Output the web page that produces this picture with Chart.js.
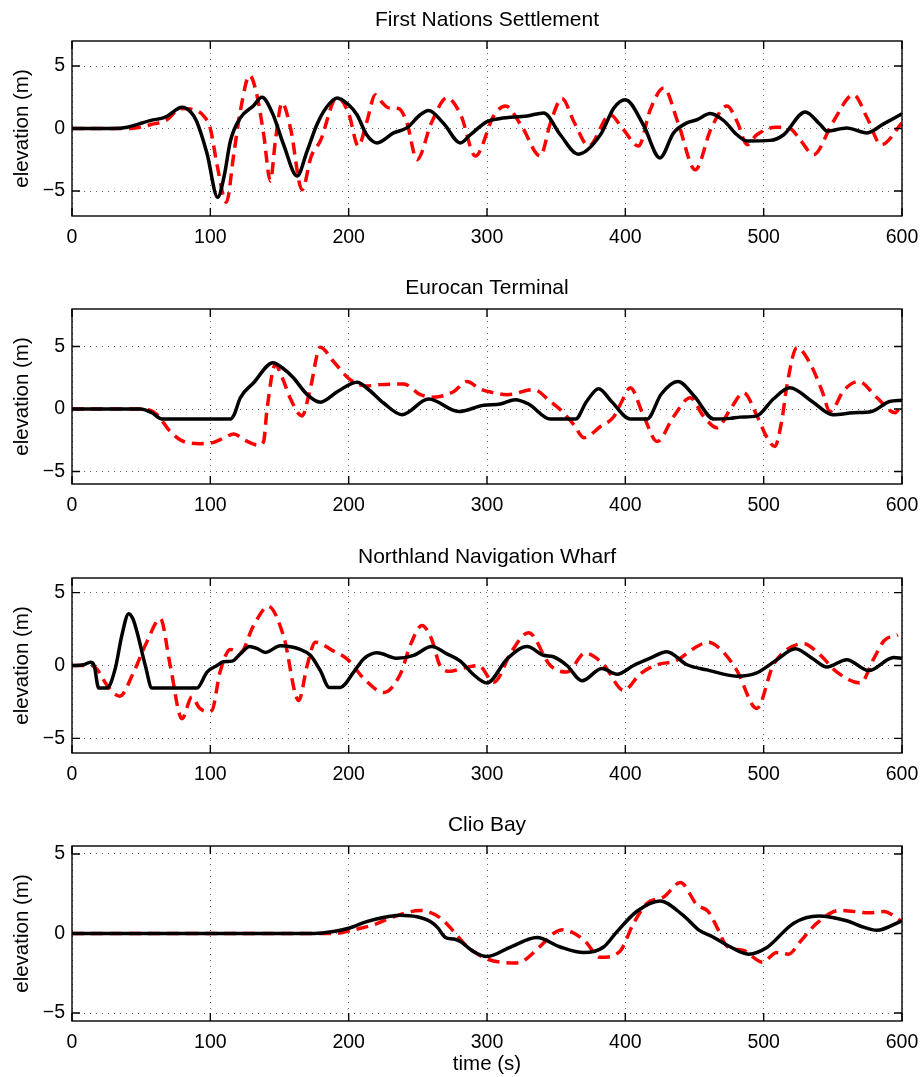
<!DOCTYPE html>
<html>
<head>
<meta charset="utf-8">
<script src="https://cdn.jsdelivr.net/npm/chart.js@4.4.1/dist/chart.umd.min.js"></script>
<style>
body { margin: 0; background: #fff; }
#wrap { position: relative; width: 921px; height: 1077px; }
canvas { position: absolute; left: 0; }
</style>
</head>
<body>
<div id="wrap">
<canvas id="p1" width="921" height="268" style="top:0px"></canvas>
<canvas id="p2" width="921" height="268" style="top:268px"></canvas>
<canvas id="p3" width="921" height="268" style="top:537px"></canvas>
<canvas id="p4" width="921" height="272" style="top:805px"></canvas>
</div>
<script>
// tick labels
let xTicks = [0, 100, 200, 300, 400, 500, 600];
let yTicks = [-5, 0, 5];

// First Nations Settlement: [time s, elevation m]
let settleBlack = [[0,0],[30,0],[40,0.1],[48,0.35],[57,0.65],[66,0.85],[69,1.0],[79.5,1.7],[86,1.3],[90,0.6],[97.6,-2],[105.3,-5.5],[110,-3.8],[114.5,-1],[121.7,0.85],[131,1.8],[137.3,2.5],[145,1.2],[153,-1.3],[162.7,-3.8],[170,-1.8],[177,0.3],[184,1.7],[191.6,2.45],[200,1.9],[206,1.1],[213,-0.5],[220.5,-1.15],[232.5,-0.35],[242,0.05],[251.8,1.1],[257.8,1.45],[268.7,0.4],[280.7,-1.15],[288,-0.5],[300,0.55],[309.6,0.8],[329,1.0],[341,1.25],[353,-0.5],[366,-2.05],[382,-0.5],[391.8,1.65],[400,2.3],[413,0.3],[425,-2.35],[434.9,-0.35],[444.6,0.45],[451.8,0.7],[461.4,1.2],[471,0.64],[480.7,-0.5],[488,-1.0],[504.8,-0.95],[514.5,-0.5],[530,1.33],[541,0.3],[545.8,-0.2],[560,0.05],[574.7,-0.35],[586.7,0.37],[600,1.17]];
let settleRed = [[0,0],[40,0],[47,0.05],[56.6,0.3],[68.7,0.7],[78.3,1.6],[88,1.5],[95.2,1.0],[100,0],[105,-3],[111.6,-5.9],[117,-2],[121.7,1.4],[128.4,4.25],[133,3],[138.6,-0.5],[143.4,-4.2],[147,-1],[151.8,2.05],[158,0],[166.3,-4.9],[173,-2.2],[179.5,-1],[191.6,2.5],[200,1.2],[207,-1.4],[213,0.5],[219.3,2.7],[224,2.1],[229,1.65],[236,1.6],[242,0.5],[249.4,-2.5],[260,0.5],[271,2.45],[281,1.1],[291.6,-2.2],[304.8,1.0],[313.3,1.8],[325,0.2],[338.5,-2.2],[346,0.5],[354.2,2.4],[363,0.5],[373.5,-1.4],[389,1.1],[398,0.0],[409.6,-1.4],[418,1.5],[427.7,3.25],[438,0.5],[450.6,-3.3],[462,0],[473.5,1.8],[481,0.5],[488,-1.3],[495,-0.5],[509,0.1],[519,0],[527,-1],[536,-2.1],[550,0.5],[565,2.7],[575,0.8],[585,-1.3],[600,0.45]];

// Eurocan Terminal
let eurocanBlack = [[0,0],[49.4,0],[57.8,-0.3],[65,-0.8],[114.5,-0.8],[117,-0.5],[121.7,0.9],[131.3,2.1],[145.3,3.7],[152,3.3],[160,2.5],[170,1.15],[179.5,0.55],[192,1.4],[206,2.15],[215,1.5],[225,0.5],[238.5,-0.45],[257.8,0.8],[279.5,-0.2],[297.6,0.3],[309.6,0.4],[320.5,0.75],[330,0.4],[345.8,-0.8],[364,-0.8],[372,0.6],[380.7,1.63],[390,0.6],[403.6,-0.8],[415.7,-0.8],[426,1.2],[438,2.2],[450,1.0],[463.9,-0.8],[476,-0.75],[483,-0.65],[495,-0.55],[507,0.8],[519,1.7],[535,0.6],[550,-0.45],[565,-0.3],[578,-0.2],[591,0.6],[600,0.7]];
let eurocanRed = [[0,0],[52,0],[61.4,-0.45],[71,-1.8],[80.7,-2.6],[92.8,-2.77],[102.4,-2.67],[110,-2.3],[116.9,-2.0],[125,-2.5],[135,-2.9],[138.5,-2.6],[141,0],[147,3.55],[152,2.5],[158,0.8],[166.3,-0.55],[172,1.5],[179.5,4.95],[189,3.8],[201,2.35],[213,1.85],[223,1.95],[239.8,2.0],[251.8,1.15],[261.4,0.95],[276,1.4],[285.5,2.2],[295,1.6],[304.8,1.3],[314.5,1.15],[333.7,1.55],[345.8,0.6],[353,-0.05],[362.7,-1.25],[370,-2.3],[382,-1.4],[391.8,-0.6],[397,0.5],[403.6,1.7],[413,-0.5],[423,-2.6],[434.9,-0.6],[447,0.9],[456,-0.5],[466.3,-1.5],[476,0],[485.5,1.3],[495,-0.5],[502,-2.2],[508,-3.0],[513,-1],[517,2],[524,4.9],[534,3.55],[542,1.5],[548,-0.2],[558,1.5],[568.7,2.2],[582,0.9],[595,-0.3],[600,0.5]];

// Northland Navigation Wharf
let northBlack = [[0,0],[8.4,0.05],[13.3,0.23],[16,0],[19.3,-1.55],[25.3,-1.55],[31.3,-0.2],[36,2.05],[41,3.55],[44,3.2],[47,2.3],[53,0],[57.8,-1.55],[90.4,-1.55],[97.6,-0.45],[104.8,0],[109.6,0.25],[115.7,0.3],[121.7,0.8],[128.4,1.3],[134,1.15],[139.8,0.9],[150.6,1.35],[165,1.1],[172.3,0.7],[179.5,-0.35],[186,-1.5],[194,-1.5],[203.6,-0.45],[210.8,0.45],[220.5,0.87],[235,0.5],[247,0.7],[260,1.3],[271,0.8],[280.7,0.3],[290,-0.6],[300,-1.2],[314.5,0.45],[329,1.3],[340.9,0.7],[348,0.6],[357.8,0],[368.7,-1.05],[383,-0.2],[394,-0.6],[406,0],[418,0.5],[430,0.95],[444.6,0.05],[459,-0.3],[480.7,-0.73],[495,-0.5],[509.6,0.4],[522.9,1.15],[535,0.5],[545.8,-0.1],[560,0.4],[575.9,-0.35],[594,0.55],[600,0.5]];
let northRed = [[0,0],[14,0],[18,-0.25],[25.3,-1.35],[34.5,-2.1],[44.6,-0.45],[54,1.6],[63.9,3.2],[71,0],[79.5,-3.65],[86.7,-2.15],[92,-2.9],[97.6,-3.15],[101,-3.1],[107,-0.45],[114.5,1.1],[121.7,0.9],[131.3,2.75],[142,4.05],[153,2.0],[163.9,-2.4],[170,0],[175.9,1.6],[189,1.0],[198.8,0.45],[212,-1],[225.3,-1.85],[237.3,-0.6],[245,1.5],[253,2.75],[260,1.8],[266,0],[273.5,-0.4],[280,-0.25],[294,0],[304.8,-1.15],[318,1.0],[330,2.25],[345.8,0],[357.8,-0.45],[371,0.85],[384,0.1],[398.8,-1.7],[411,-0.55],[423,0.05],[437,0.35],[450,1.2],[460,1.6],[470,1.0],[480.7,-0.35],[495,-2.95],[506.8,0],[517,1.1],[529,1.5],[541,0.7],[553,-0.45],[570,-1.2],[579.5,0.45],[587,1.7],[597,2.1]];

// Clio Bay
let clioBlack = [[0,0],[175,0],[189,0.12],[200,0.33],[213,0.75],[225,1.0],[237,1.15],[249.4,1.05],[259,0.75],[264,0.4],[270,-0.25],[276,-0.35],[280.7,-0.5],[290.4,-1.15],[300,-1.45],[317,-0.85],[336,-0.25],[353,-0.85],[370,-1.2],[384.3,-0.85],[394,0.12],[408.4,1.4],[425,2.05],[441.4,1.17],[453.5,0.2],[463,-0.2],[475,-0.8],[489.2,-1.3],[502,-0.9],[521.7,0.65],[539.8,1.1],[560,0.8],[572,0.4],[581.7,0.2],[600,0.8]];
let clioRed = [[0,0],[190,0],[203.6,0.23],[218,0.55],[232.5,1.05],[251.8,1.45],[266,1.0],[276,0.12],[285.5,-0.8],[300,-1.6],[321.7,-1.85],[338.5,-0.8],[348,0],[355,0.23],[370,-0.4],[382,-1.5],[396,-1.13],[406,0.65],[415.7,1.9],[427.7,2.3],[439.8,3.2],[451.8,1.8],[460,1.38],[466,0.44],[473.5,-0.8],[485.5,-1.07],[499,-1.8],[509.6,-1.2],[518,-1.3],[526.5,-0.5],[538.5,0.65],[555,1.45],[577,1.3],[586.7,1.38],[600,0.75]];

const FONT = 'Liberation Sans, Arial, Helvetica, sans-serif';

// matlab style box with inward ticks
const boxTicks = {
    id: 'boxTicks',
    afterDatasetsDraw(chart) {
        const {ctx, chartArea: a, scales: {x, y}} = chart;
        ctx.save();
        ctx.strokeStyle = '#000';
        ctx.lineWidth = 1.4;
        ctx.strokeRect(a.left, a.top, a.width, a.height);
        ctx.beginPath();
        x.ticks.forEach(t => {
            const px = x.getPixelForValue(t.value);
            ctx.moveTo(px, a.bottom); ctx.lineTo(px, a.bottom - 8);
            ctx.moveTo(px, a.top); ctx.lineTo(px, a.top + 8);
        });
        y.ticks.forEach(t => {
            const py = y.getPixelForValue(t.value);
            ctx.moveTo(a.left, py); ctx.lineTo(a.left + 8, py);
            ctx.moveTo(a.right, py); ctx.lineTo(a.right - 8, py);
        });
        ctx.stroke();
        ctx.restore();
    }
};

function toXY(pts) {
    return pts.map(([x, y]) => ({x, y}));
}

function makePanel(id, title, black, red, yMin, yMax, xTitle, xHeight) {
    return new Chart(document.getElementById(id).getContext('2d'), {
        type: 'line',
        data: {
            datasets: [{
                data: toXY(black),
                borderColor: '#000',
                borderWidth: 3.5,
                pointRadius: 0,
                cubicInterpolationMode: 'monotone'
            }, {
                data: toXY(red),
                borderColor: '#ff0000',
                borderWidth: 3.5,
                borderDash: [12, 7],
                pointRadius: 0,
                cubicInterpolationMode: 'monotone'
            }]
        },
        options: {
            responsive: false,
            devicePixelRatio: 1,
            animation: false,
            layout: { padding: { left: 0, right: 19, top: 0, bottom: 0 } },
            plugins: {
                legend: { display: false },
                tooltip: { enabled: false },
                title: {
                    display: true,
                    fullSize: false,
                    text: title,
                    color: '#000',
                    font: { family: FONT, size: 21, weight: 'normal' },
                    padding: { top: 7.4, bottom: 8.4 }
                }
            },
            scales: {
                x: {
                    type: 'linear',
                    min: 0,
                    max: 600,
                    afterBuildTicks: s => { s.ticks = xTicks.map(v => ({value: v})); },
                    afterFit: s => { s.height = xHeight; s.paddingLeft = 0; s.paddingRight = 0; },
                    grid: { color: 'rgba(0,0,0,0.6)', lineWidth: 1, drawTicks: false },
                    border: { display: false, dash: [1, 5] },
                    ticks: { color: '#000', padding: 10, maxRotation: 0, font: { family: FONT, size: 19.5 } },
                    title: {
                        display: !!xTitle,
                        text: xTitle || '',
                        color: '#000',
                        font: { family: FONT, size: 20.5 },
                        padding: { top: 0, bottom: 0 }
                    }
                },
                y: {
                    min: yMin,
                    max: yMax,
                    afterBuildTicks: s => { s.ticks = yTicks.map(v => ({value: v})); },
                    afterFit: s => { s.width = 72; s.paddingTop = 0; s.paddingBottom = 0; },
                    grid: { color: 'rgba(0,0,0,0.6)', lineWidth: 1, drawTicks: false },
                    border: { display: false, dash: [1, 5] },
                    ticks: {
                        color: '#000',
                        padding: 7,
                        font: { family: FONT, size: 19.5 },
                        callback: v => String(v).replace('-', '\u2212')
                    },
                    title: {
                        display: true,
                        text: 'elevation (m)',
                        color: '#000',
                        font: { family: FONT, size: 20.5 },
                        padding: { top: 10, bottom: 0 }
                    }
                }
            }
        },
        plugins: [boxTicks]
    });
}

makePanel('p1', 'First Nations Settlement', settleBlack, settleRed, -7, 7, null, 52);
makePanel('p2', 'Eurocan Terminal', eurocanBlack, eurocanRed, -6, 8, null, 52);
makePanel('p3', 'Northland Navigation Wharf', northBlack, northRed, -6, 6, null, 52);
makePanel('p4', 'Clio Bay', clioBlack, clioRed, -5.5, 5.5, 'time (s)', 56);
</script>
</body>
</html>
